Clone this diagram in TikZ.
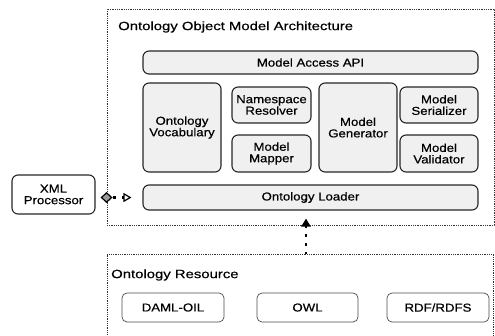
\documentclass[tikz,border=0pt]{standalone}
\usepackage{fontspec}
\setmainfont[FakeStretch=1.15,FakeBold=0.5]{Liberation Sans}
\newfontfamily\ttlfont[FakeStretch=1.24,FakeBold=0.4]{Liberation Sans}
\usetikzlibrary{arrows.meta}
\begin{document}
\begin{tikzpicture}[x=1pt,y=-1pt,
  frame/.style={draw=black!80, line width=0.8pt, dash pattern=on 0.9pt off 0.9pt},
  comp/.style={draw=black!85, line width=1.1pt, rounded corners=6pt, fill=black!6,
    align=center, inner sep=0pt, font=\fontsize{11.5}{11.5}\selectfont},
  res/.style={draw=black!70, line width=0.7pt, rounded corners=5pt, fill=white,
    align=center, inner sep=0pt, font=\fontsize{11.5}{12}\selectfont},
  ttl/.style={anchor=west, inner sep=0pt, font=\ttlfont\fontsize{12}{14}\selectfont},
  dotline/.style={line width=2.6pt, dash pattern=on 2.8pt off 6.2pt}
]
\useasboundingbox (0,0) rectangle (495,335);
% outer frame
\node[frame, minimum width=387pt, minimum height=216pt, inner sep=0pt] (arch) at (300.5,117) {};
\node[ttl] (archt) at (118,27) {Ontology Object Model Architecture};
\node[comp, minimum width=335pt, minimum height=23pt] (api) at (310.5,62.5) {Model Access API};
\node[comp, minimum width=78pt, minimum height=89pt] (voc) at (182,127.5) {Ontology\\Vocabulary};
\node[comp, minimum width=79pt, minimum height=36pt] (ns) at (271.5,105) {Namespace\\Resolver};
\node[comp, minimum width=79pt, minimum height=37pt] (map) at (271.5,153.5) {Model\\Mapper};
\node[comp, minimum width=78pt, minimum height=89pt] (gen) at (358,127.5) {Model\\Generator};
\node[comp, minimum width=78pt, minimum height=36pt] (ser) at (439,105) {Model\\Serializer};
\node[comp, minimum width=78pt, minimum height=37pt] (val) at (439,153.5) {Model\\Validator};
\node[comp, minimum width=335pt, minimum height=25pt] (load) at (310.5,197.5) {Ontology Loader};
\node[comp, fill=white, minimum width=83pt, minimum height=39pt] (xml) at (53.5,194.5) {XML\\Processor};
% resource frame (runs off the bottom)
\draw[frame] (107,340) |- (493,254) -- (493,340);
\coordinate (restop) at (306,254);
\node[ttl] (rest) at (111,275) {Ontology Resource};
\node[res, minimum width=102pt, minimum height=29pt] (daml) at (173,307.5) {DAML-OIL};
\node[res, minimum width=101pt, minimum height=29pt] (owl) at (307.5,307.5) {OWL};
\node[res, minimum width=102pt, minimum height=29pt] (rdf) at (438,307.5) {RDF/RDFS};
% connectors
\draw[dotline, dash phase=-2.5pt,
  {Diamond[fill=black!40, color=black, line width=1.2pt, length=12pt, width=11pt]}-{Triangle[open, fill=white, line width=1.2pt, length=8pt, width=9pt]},
  shorten <=5pt, shorten >=11pt] (xml.east |- load) -- (load.west);
\draw[dotline, dash phase=1pt, -{Triangle[length=8pt, width=9pt]}, shorten >=8pt]
  (restop) -- (restop |- load.south);
\end{tikzpicture}
\end{document}
